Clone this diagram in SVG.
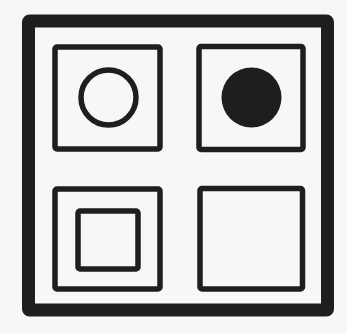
<svg xmlns="http://www.w3.org/2000/svg" width="347" height="334" viewBox="0 0 347 334">
<style>
.ln{fill:none;stroke:#1e1e1e;stroke-linejoin:round}
.box{stroke-width:5.5}
</style>
<rect width="347" height="334" fill="#f7f7f5"/>
<g id="frame"><rect x="28.5" y="21" width="299" height="289" rx="1" fill="none" stroke="#1e1e1e" stroke-width="13" stroke-linejoin="miter"/></g>
<g id="node-circle">
<rect class="ln box" x="55" y="47" width="105" height="102" rx="2"/>
<circle class="ln" cx="108.5" cy="97.5" r="27.5" stroke-width="5.5"/>
</g>
<g id="node-dot">
<rect class="ln box" x="199" y="46.5" width="104" height="103" rx="2"/>
<circle cx="251.5" cy="97.5" r="30" fill="#1e1e1e"/>
</g>
<g id="node-square">
<rect class="ln box" x="55" y="189" width="105" height="100" rx="2"/>
<rect class="ln box" x="78" y="211" width="60" height="58" rx="2"/>
</g>
<g id="node-empty">
<rect class="ln box" x="200" y="188.5" width="102.5" height="100.5" rx="2"/>
</g>
<g id="connectors"></g>
</svg>
